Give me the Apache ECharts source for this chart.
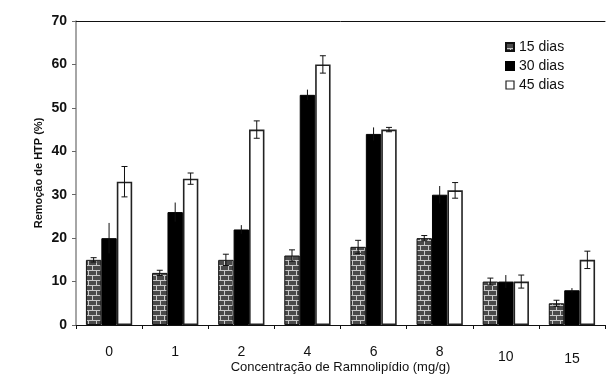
<!DOCTYPE html>
<html><head><meta charset="utf-8">
<script src="https://cdn.jsdelivr.net/npm/echarts@6/dist/echarts.min.js"></script>
<style>html,body{margin:0;padding:0;background:#fff}#c{width:609px;height:378px}</style>
</head><body><div id="c"></div>
<script>
const categories = ['0','1','2','4','6','8','10','15'];
const seriesNames = ['15 dias','30 dias','45 dias'];
const dias15 = [15, 12, 15, 16, 18, 20, 10, 5];
const dias30 = [20, 26, 22, 53, 44, 30, 10, 8];
const dias45 = [33, 33.7, 45, 60, 45, 31, 10, 15];
const err15 = [0.5, 0.6, 1.3, 1.3, 1.5, 0.6, 0.8, 0.7];
const err30 = [3.5, 2.2, 1.0, 1.2, 1.5, 2.0, 1.5, 0.5];
const err45 = [3.5, 1.3, 2.0, 2.0, 0.5, 1.8, 1.5, 2.0];
const yTicks = [0, 10, 20, 30, 40, 50, 60, 70];

const values = [dias15, dias30, dias45];
const errs = [err15, err30, err45];

// brick pattern
const pc = document.createElement('canvas');
pc.width = 8; pc.height = 10;
const g = pc.getContext('2d');
g.fillStyle = '#4a4a4a'; g.fillRect(0,0,8,10);
g.fillStyle = '#c8c8c8';
g.fillRect(0,0,8,1); g.fillRect(0,5,8,1);
g.fillRect(0,0,1,5); g.fillRect(4,5,1,5);
const brick = {image: pc, repeat: 'repeat'};

const styles = [
  {color: brick, borderColor: '#111', borderWidth: 1},
  {color: '#000', borderColor: '#000', borderWidth: 1},
  {color: '#fff', borderColor: '#222', borderWidth: 1.6}
];

const errData = [];
for (let s = 0; s < 3; s++) for (let i = 0; i < categories.length; i++)
  errData.push([i, values[s][i], errs[s][i], s]);

// the original's last two tick labels sit slightly lower
const labelDrop = {'10': 5, '15': 7};
const catData = categories.map(c => labelDrop[c]
  ? {value: c, textStyle: {padding: [labelDrop[c], 0, 0, 0]}} : c);

const chart = echarts.init(document.getElementById('c'), null, {renderer: 'canvas'});
const font = 'Liberation Sans, Arial, sans-serif';
chart.setOption({
  animation: false,
  textStyle: {fontFamily: font},
  grid: {left: 76, top: 21, right: 4, bottom: 53, containLabel: false, outerBoundsMode: 'none'},
  legend: {
    orient: 'vertical', left: 500, top: 35, itemWidth: 8, itemHeight: 8, itemGap: 5,
    textStyle: {fontSize: 14, color: '#111', fontFamily: font},
    data: seriesNames.map((n, k) => ({name: n, icon: 'rect', itemStyle: k === 2 ? {borderWidth: 1.2} : {}}))
  },
  xAxis: [{
    type: 'category', data: catData,
    axisLine: {lineStyle: {color: '#111', width: 1}},
    axisTick: {show: true, length: 4, lineStyle: {color: '#111'}},
    axisLabel: {fontSize: 14, color: '#111', margin: 20, fontFamily: font},
    name: 'Concentração de Ramnolipídio (mg/g)', nameLocation: 'middle', nameGap: 36,
    nameMoveOverlap: false,
    nameTextStyle: {fontSize: 13, color: '#111', fontFamily: font}
  }, {
    type: 'category', data: categories, position: 'top',
    axisLine: {show: true, lineStyle: {color: '#111', width: 1}},
    axisTick: {show: false}, axisLabel: {show: false}
  }],
  yAxis: {
    type: 'value', min: 0, max: 70, interval: 10,
    axisLine: {show: true, lineStyle: {color: '#888', width: 1.5}},
    axisTick: {show: true, length: 4, lineStyle: {color: '#666'}},
    splitLine: {show: false},
    axisLabel: {fontSize: 14, fontWeight: 'bold', color: '#111', margin: 9, fontFamily: font,
      formatter: v => yTicks.includes(v) ? String(v) : ''},
    name: 'Remoção de HTP (%)', nameLocation: 'middle', nameGap: 32, nameRotate: 90,
    nameMoveOverlap: false,
    nameTextStyle: {fontSize: 11, fontWeight: 'bold', color: '#111', fontFamily: font}
  },
  series: [
    ...seriesNames.map((n, s) => ({
      name: n, type: 'bar', data: values[s], barGap: '0%', barCategoryGap: '30%',
      itemStyle: styles[s]
    })),
    {
      type: 'custom', data: errData, z: 10, silent: true,
      renderItem: function (params, api) {
        const i = api.value(0), v = api.value(1), e = api.value(2), s = api.value(3);
        const band = api.size([1, 0])[0];
        const bw = band * 0.7 / 3;
        const x = api.coord([i, 0])[0] + (s - 1) * bw;
        const yt = api.coord([i, v + e])[1];
        const yb = api.coord([i, v - e])[1];
        const st = {stroke: '#111', lineWidth: 1};
        const ch = [{type: 'line', shape: {x1: x, y1: yt, x2: x, y2: yb}, style: st}];
        if (s !== 1) {
          ch.push({type: 'line', shape: {x1: x - 3, y1: yt, x2: x + 3, y2: yt}, style: st});
          ch.push({type: 'line', shape: {x1: x - 3, y1: yb, x2: x + 3, y2: yb}, style: st});
        }
        return {type: 'group', children: ch};
      }
    }
  ]
});
</script></body></html>
